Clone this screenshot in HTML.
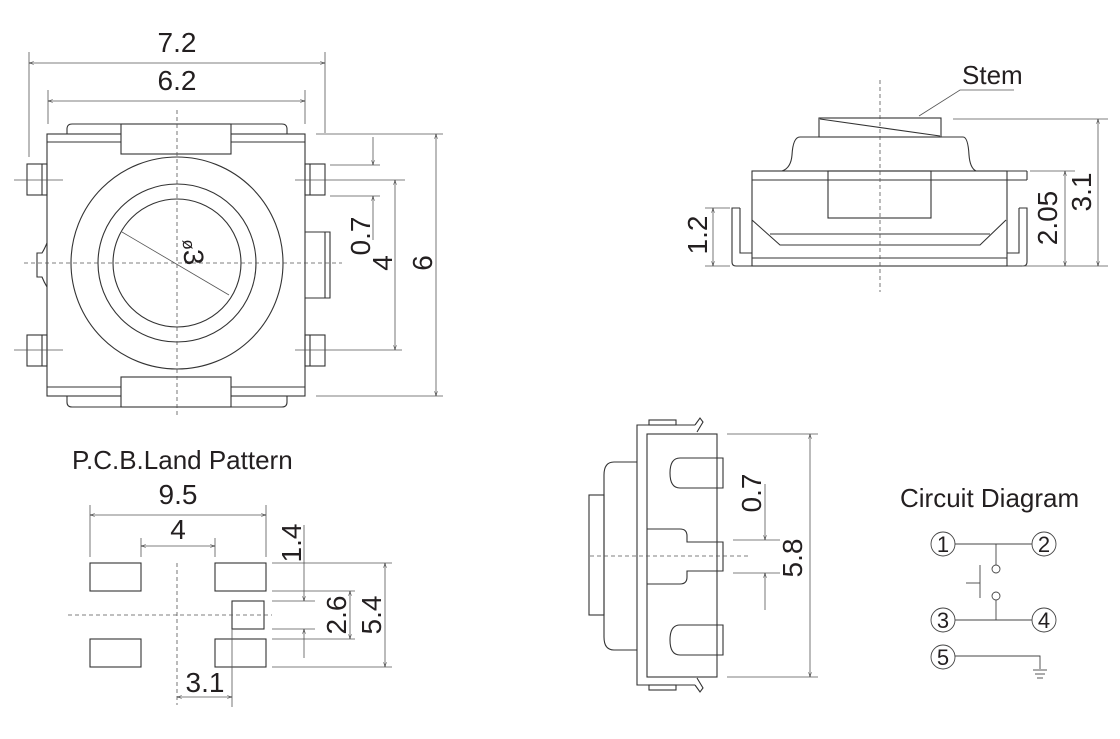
<!DOCTYPE html>
<html><head><meta charset="utf-8"><style>
html,body{margin:0;padding:0;background:#fff;}
svg{display:block;}
text{font-family:"Liberation Sans",sans-serif;fill:#231f20;}
</style></head><body>
<svg width="1120" height="739" viewBox="0 0 1120 739" xmlns="http://www.w3.org/2000/svg">
<defs>
<marker id="a" viewBox="0 0 10 10" refX="10" refY="5" markerWidth="6" markerHeight="6" orient="auto-start-reverse"><path d="M0,2 L10,5 L0,8" fill="none" stroke="#333" stroke-width="1"/></marker>
</defs>
<g fill="none" stroke="#333" stroke-width="1.1">
<!-- TOP VIEW -->
<path d="M67,134 V129 Q67,124 72,124 H282 Q287,124 287,129 V134"/>
<path d="M67,396 V402 Q67,407 72,407 H282 Q287,407 287,402 V396"/>
<rect x="47" y="134" width="258" height="262"/>
<line x1="47" y1="142" x2="305" y2="142"/>
<line x1="47" y1="387" x2="305" y2="387"/>
<rect x="121" y="124" width="110" height="30" fill="#fff"/>
<rect x="121" y="377" width="110" height="30" fill="#fff"/>
<rect x="27" y="164" width="20" height="31"/><line x1="42" y1="164" x2="42" y2="195"/>
<rect x="27" y="335" width="20" height="31"/><line x1="42" y1="335" x2="42" y2="366"/>
<rect x="305" y="164" width="20" height="31"/><line x1="310" y1="164" x2="310" y2="195"/>
<rect x="305" y="335" width="20" height="31"/><line x1="310" y1="335" x2="310" y2="366"/>
<path d="M305,232 H330 V298 H305"/><line x1="325" y1="232" x2="325" y2="298"/>
<path d="M47,243 Q44,250 42,253 H37 V277 H42 Q44,282 47,287"/>
<circle cx="177" cy="263" r="106"/>
<circle cx="177" cy="263" r="79"/>
<circle cx="177" cy="263" r="64"/>
</g>
<g stroke="#555" stroke-width="0.8" fill="none">
<line x1="122" y1="232" x2="229" y2="295"/>
<line x1="24" y1="263" x2="342" y2="263" stroke-dasharray="4,3"/>
<line x1="177" y1="110" x2="177" y2="418" stroke-dasharray="4,3"/>
<line x1="14" y1="180" x2="63" y2="180"/><line x1="14" y1="350" x2="63" y2="350"/>
<line x1="295" y1="180" x2="405" y2="180"/><line x1="295" y1="350" x2="402" y2="350"/>
<line x1="29" y1="52" x2="29" y2="157"/><line x1="325" y1="52" x2="325" y2="133"/>
<line x1="29" y1="63" x2="325" y2="63" marker-start="url(#a)" marker-end="url(#a)"/>
<line x1="48" y1="90" x2="48" y2="124"/><line x1="305" y1="90" x2="305" y2="124"/>
<line x1="48" y1="101" x2="305" y2="101" marker-start="url(#a)" marker-end="url(#a)"/>
<line x1="316" y1="134" x2="443" y2="134"/><line x1="316" y1="396" x2="443" y2="396"/>
<line x1="436" y1="134" x2="436" y2="396" marker-start="url(#a)" marker-end="url(#a)"/>
<line x1="395" y1="180" x2="395" y2="350" marker-start="url(#a)" marker-end="url(#a)"/>
<line x1="330" y1="165" x2="380" y2="165"/><line x1="330" y1="196" x2="380" y2="196"/>
<line x1="373" y1="137" x2="373" y2="165" marker-end="url(#a)"/>
<line x1="373" y1="240" x2="373" y2="196" marker-end="url(#a)"/>
</g>
<text x="177" y="52" font-size="28" text-anchor="middle">7.2</text>
<text x="177" y="90" font-size="28" text-anchor="middle">6.2</text>
<text transform="translate(432,263) rotate(-90)" font-size="28" text-anchor="middle">6</text>
<text transform="translate(392,263) rotate(-90)" font-size="28" text-anchor="middle">4</text>
<text transform="translate(370,236) rotate(-90)" font-size="28" text-anchor="middle">0.7</text>
<text transform="translate(184,258) rotate(85)" font-size="28" text-anchor="middle">3</text>
<text transform="translate(183,245) rotate(85)" font-size="17" text-anchor="middle">ø</text>

<!-- SIDE VIEW -->
<g fill="none" stroke="#333" stroke-width="1.1">
<rect x="752" y="171" width="255" height="95"/>
<line x1="752" y1="180" x2="1027" y2="180"/><line x1="1007" y1="171" x2="1027" y2="171"/><line x1="1027" y1="171" x2="1027" y2="180"/>
<line x1="752" y1="258" x2="1007" y2="258"/>
<path d="M740,208 H732 V262 Q732,266 736,266 H752"/><path d="M740,208 V253 H752"/>
<path d="M1019,208 H1027 V262 Q1027,266 1023,266 H1007"/><path d="M1019,208 V253 H1007"/>
<rect x="828" y="171" width="103" height="47"/>
<path d="M752,220 L780,245 H980 L1006,220"/>
<line x1="770" y1="234" x2="990" y2="234"/>
<path d="M782,171 Q791,168 792,155 Q793,137 800,137 H963 Q968,137 969,155 Q970,168 976,171"/>
<rect x="819" y="118" width="122" height="19"/>
<line x1="820" y1="119" x2="940" y2="136"/>
</g>
<g stroke="#555" stroke-width="0.8" fill="none">
<path d="M919,116 L960,90 H1014"/>
<line x1="880" y1="80" x2="880" y2="292" stroke-dasharray="4,3"/>
<line x1="953" y1="119" x2="1108" y2="119"/><line x1="1022" y1="266" x2="1108" y2="266"/>
<line x1="1098" y1="119" x2="1098" y2="266" marker-start="url(#a)" marker-end="url(#a)"/>
<line x1="1030" y1="171" x2="1075" y2="171"/>
<line x1="1065" y1="171" x2="1065" y2="266" marker-start="url(#a)" marker-end="url(#a)"/>
<line x1="705" y1="208" x2="730" y2="208"/><line x1="705" y1="266" x2="730" y2="266"/>
<line x1="713" y1="208" x2="713" y2="266" marker-start="url(#a)" marker-end="url(#a)"/>
</g>
<text x="962" y="84" font-size="26">Stem</text>
<text transform="translate(1091,192) rotate(-90)" font-size="28" text-anchor="middle">3.1</text>
<text transform="translate(1057,218) rotate(-90)" font-size="28" text-anchor="middle">2.05</text>
<text transform="translate(707,235) rotate(-90)" font-size="28" text-anchor="middle">1.2</text>

<!-- FRONT VIEW -->
<g fill="none" stroke="#333" stroke-width="1.1">
<path d="M695,425 H637 V685 H695"/>
<rect x="647" y="434" width="70" height="243"/>
<rect x="649" y="420" width="27" height="5"/><rect x="649" y="685" width="27" height="5"/>
<path d="M695,425 L700,418 L703,422 L697,432"/><path d="M695,685 L700,692 L703,688 L697,678"/>
<path d="M637,462 H614 Q604,462 604,475 V637 Q604,650 614,650 H637"/>
<rect x="589" y="495" width="15" height="120"/>
<path d="M723,458 H680 Q670,458 670,473 Q670,488 680,488 H723 Z"/>
<path d="M723,625 H680 Q670,625 670,640 Q670,655 680,655 H723 Z"/>
<path d="M647,529 H680 Q687,529 687,536 V542 H723 V571 H687 V577 Q687,584 680,584 H647"/>
</g>
<g stroke="#555" stroke-width="0.8" fill="none">
<line x1="590" y1="556" x2="748" y2="556" stroke-dasharray="4,3"/>
<line x1="727" y1="434" x2="818" y2="434"/><line x1="727" y1="677" x2="818" y2="677"/>
<line x1="810" y1="434" x2="810" y2="677" marker-start="url(#a)" marker-end="url(#a)"/>
<line x1="733" y1="540" x2="780" y2="540"/><line x1="733" y1="573" x2="780" y2="573"/>
<line x1="765" y1="484" x2="765" y2="540" marker-end="url(#a)"/>
<line x1="765" y1="610" x2="765" y2="573" marker-end="url(#a)"/>
</g>
<text transform="translate(802,558) rotate(-90)" font-size="28" text-anchor="middle">5.8</text>
<text transform="translate(761,493) rotate(-90)" font-size="28" text-anchor="middle">0.7</text>

<!-- CIRCUIT -->
<text x="900" y="507" font-size="26">Circuit Diagram</text>
<g fill="none" stroke="#444" stroke-width="0.9">
<circle cx="943" cy="544" r="12"/><circle cx="1044" cy="544" r="12"/>
<circle cx="943" cy="620" r="12"/><circle cx="1044" cy="620" r="12"/>
<circle cx="943" cy="657" r="12"/>
<line x1="955" y1="544" x2="1032" y2="544"/><line x1="955" y1="620" x2="1032" y2="620"/>
<line x1="996" y1="544" x2="996" y2="565"/><circle cx="996" cy="569" r="4"/>
<circle cx="996" cy="596" r="4"/><line x1="996" y1="600" x2="996" y2="620"/>
<line x1="980" y1="565" x2="980" y2="598"/><line x1="966" y1="583" x2="980" y2="583"/>
<path d="M955,656 H1040 V669"/>
<line x1="1033" y1="670" x2="1047" y2="670"/><line x1="1035" y1="674" x2="1045" y2="674"/><line x1="1037" y1="678" x2="1043" y2="678"/>
</g>
<g font-size="22" text-anchor="middle">
<text x="943" y="552">1</text><text x="1044" y="552">2</text>
<text x="943" y="628">3</text><text x="1044" y="628">4</text>
<text x="943" y="665">5</text>
</g>

<!-- PCB -->
<text x="72" y="469" font-size="26">P.C.B.Land Pattern</text>
<g fill="none" stroke="#333" stroke-width="1.1">
<rect x="90" y="563" width="51" height="28"/><rect x="215" y="563" width="51" height="28"/>
<rect x="90" y="639" width="51" height="28"/><rect x="215" y="639" width="51" height="28"/>
<rect x="232" y="601" width="32" height="28"/>
</g>
<g stroke="#555" stroke-width="0.8" fill="none">
<line x1="68" y1="615" x2="272" y2="615" stroke-dasharray="4,3"/>
<line x1="177" y1="563" x2="177" y2="705" stroke-dasharray="4,3"/>
<line x1="90" y1="505" x2="90" y2="557"/><line x1="266" y1="505" x2="266" y2="557"/>
<line x1="90" y1="515" x2="266" y2="515" marker-start="url(#a)" marker-end="url(#a)"/>
<line x1="141" y1="538" x2="141" y2="557"/><line x1="215" y1="538" x2="215" y2="557"/>
<line x1="141" y1="546" x2="215" y2="546" marker-start="url(#a)" marker-end="url(#a)"/>
<line x1="272" y1="563" x2="392" y2="563"/><line x1="272" y1="591" x2="355" y2="591"/>
<line x1="272" y1="601" x2="315" y2="601"/><line x1="272" y1="629" x2="315" y2="629"/>
<line x1="272" y1="639" x2="355" y2="639"/><line x1="272" y1="667" x2="392" y2="667"/>
<line x1="304" y1="525" x2="304" y2="601" marker-end="url(#a)"/>
<line x1="304" y1="658" x2="304" y2="629" marker-end="url(#a)"/>
<line x1="350" y1="591" x2="350" y2="639" marker-start="url(#a)" marker-end="url(#a)"/>
<line x1="385" y1="563" x2="385" y2="667" marker-start="url(#a)" marker-end="url(#a)"/>
<line x1="232" y1="629" x2="232" y2="707"/>
<line x1="177" y1="697" x2="232" y2="697" marker-start="url(#a)" marker-end="url(#a)"/>
</g>
<text x="178" y="504" font-size="28" text-anchor="middle">9.5</text>
<text x="178" y="539" font-size="28" text-anchor="middle">4</text>
<text transform="translate(301,543) rotate(-90)" font-size="28" text-anchor="middle">1.4</text>
<text transform="translate(346,615) rotate(-90)" font-size="28" text-anchor="middle">2.6</text>
<text transform="translate(381,615) rotate(-90)" font-size="28" text-anchor="middle">5.4</text>
<text x="205" y="692" font-size="28" text-anchor="middle">3.1</text>
</svg>
</body></html>
